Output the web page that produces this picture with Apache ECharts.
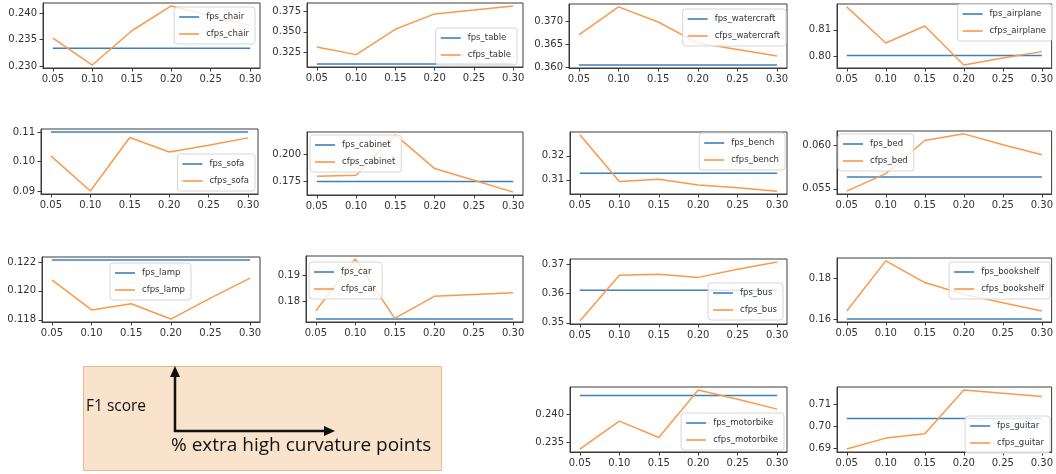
<!DOCTYPE html>
<html><head><meta charset="utf-8">
<script src="https://cdn.jsdelivr.net/npm/echarts@6/dist/echarts.min.js"></script>
<style>html,body{margin:0;padding:0;background:#fff}#c{width:1056px;height:474px}</style>
</head><body><div id="c"></div>
<script>
// ---------------- DATA ----------------
const xValues = [0.05, 0.10, 0.15, 0.20, 0.25, 0.30];
const xTickLabels = ['0.05', '0.10', '0.15', '0.20', '0.25', '0.30'];
const categories = ['chair', 'table', 'watercraft', 'airplane', 'sofa', 'cabinet', 'bench', 'bed',
  'lamp', 'car', 'bus', 'bookshelf', 'motorbike', 'guitar'];
// fps baseline (constant across x)
const fpsScores = [0.2334, 0.3112, 0.3604, 0.8005, 0.1100, 0.1747, 0.3127, 0.05637,
  0.12214, 0.17327, 0.3612, 0.1602, 0.2435, 0.7035];
// cfps at each x value
const cfpsChair = [0.2353, 0.2302, 0.2367, 0.2414, 0.2395, 0.2377];
const cfpsTable = [0.3318, 0.3226, 0.3531, 0.3716, 0.3763, 0.3812];
const cfpsWatercraft = [0.3670, 0.3731, 0.3698, 0.3652, 0.3638, 0.3624];
const cfpsAirplane = [0.8185, 0.8051, 0.8114, 0.7969, 0.7995, 0.8019];
const cfpsSofa = [0.1019, 0.0900, 0.1081, 0.1032, 0.1055, 0.1080];
const cfpsCabinet = [0.1797, 0.1806, 0.2187, 0.1869, 0.1759, 0.1647];
const cfpsBench = [0.3287, 0.3093, 0.3103, 0.3079, 0.3067, 0.3053];
const cfpsBed = [0.05473, 0.05675, 0.06057, 0.06134, 0.06008, 0.05892];
const cfpsLamp = [0.12076, 0.11868, 0.11911, 0.11805, 0.11950, 0.12088];
const cfpsCar = [0.17638, 0.1961, 0.1735, 0.1819, 0.1826, 0.1833];
const cfpsBus = [0.3506, 0.3663, 0.3667, 0.3656, 0.3684, 0.3709];
const cfpsBookshelf = [0.1641, 0.1884, 0.1779, 0.1722, 0.1681, 0.1641];
const cfpsMotorbike = [0.2337, 0.2388, 0.2358, 0.2445, 0.2428, 0.2410];
const cfpsGuitar = [0.6895, 0.6945, 0.6965, 0.7165, 0.7150, 0.7135];
const cfpsScores = [cfpsChair, cfpsTable, cfpsWatercraft, cfpsAirplane, cfpsSofa, cfpsCabinet,
  cfpsBench, cfpsBed, cfpsLamp, cfpsCar, cfpsBus, cfpsBookshelf, cfpsMotorbike, cfpsGuitar];
// y tick labels per panel
const yTicksChair = ['0.230', '0.235', '0.240'];
const yTicksTable = ['0.325', '0.350', '0.375'];
const yTicksWatercraft = ['0.360', '0.365', '0.370'];
const yTicksAirplane = ['0.80', '0.81'];
const yTicksSofa = ['0.09', '0.10', '0.11'];
const yTicksCabinet = ['0.175', '0.200'];
const yTicksBench = ['0.31', '0.32'];
const yTicksBed = ['0.055', '0.060'];
const yTicksLamp = ['0.118', '0.120', '0.122'];
const yTicksCar = ['0.18', '0.19'];
const yTicksBus = ['0.35', '0.36', '0.37'];
const yTicksBookshelf = ['0.16', '0.18'];
const yTicksMotorbike = ['0.235', '0.240'];
const yTicksGuitar = ['0.69', '0.70', '0.71'];
const yTickLabels = [yTicksChair, yTicksTable, yTicksWatercraft, yTicksAirplane, yTicksSofa, yTicksCabinet,
  yTicksBench, yTicksBed, yTicksLamp, yTicksCar, yTicksBus, yTicksBookshelf, yTicksMotorbike, yTicksGuitar];
const annotationYLabel = 'F1 score';
const annotationXLabel = '% extra high curvature points';

// ---------------- LAYOUT ----------------
const panels = [
  { l: 43, t: 3, w: 217, h: 65, lg: { right: 801, top: 7 } },
  { l: 307, t: 3, w: 216, h: 64, lg: { right: 539, top: 28 } },
  { l: 569, t: 4, w: 218, h: 64, lg: { right: 270, top: 9 } },
  { l: 837, t: 4, w: 216, h: 64, lg: { right: 4, top: 4 } },
  { l: 41, t: 129, w: 217, h: 65, lg: { right: 801, top: 154 } },
  { l: 307, t: 132, w: 216, h: 63, lg: { left: 310, top: 135 } },
  { l: 570, t: 132, w: 217, h: 62, lg: { right: 271, top: 133 } },
  { l: 837, t: 131, w: 216, h: 63, lg: { left: 838, top: 134 } },
  { l: 42, t: 257, w: 218, h: 65, lg: { left: 'center', top: 263, cx: 151 } },
  { l: 306, t: 256, w: 217, h: 66, lg: { left: 309, top: 262 } },
  { l: 570, t: 259, w: 217, h: 65, lg: { right: 273, top: 283 } },
  { l: 837, t: 258, w: 216, h: 64, lg: { right: 6, top: 262 } },
  { l: 570, t: 387, w: 217, h: 65, lg: { right: 272, top: 413 } },
  { l: 837, t: 387, w: 216, h: 65, lg: { right: 6, top: 416 } }
];
const BLUE = '#3d80bb';
const ORANGE = '#fb994a';
const TXT = '#333';
const FONT = 'DejaVu Sans';

const grids = [], xAxes = [], yAxes = [], series = [], legends = [];
const xMin = xValues[0] - 0.05 * (xValues[xValues.length - 1] - xValues[0]);
const xMax = xValues[xValues.length - 1] + 0.05 * (xValues[xValues.length - 1] - xValues[0]);
const xTickVals = xTickLabels.map(Number);

categories.forEach((cat, i) => {
  const p = panels[i];
  const all = cfpsScores[i].concat([fpsScores[i]]);
  const lo = Math.min(...all), hi = Math.max(...all);
  const pad = 0.05 * (hi - lo);
  const labels = yTickLabels[i];
  const yVals = labels.map(Number);
  grids.push({ left: p.l, top: p.t, width: p.w, height: p.h, show: true,
    borderColor: '#3c3c3c', borderWidth: 1, backgroundColor: 'transparent' });
  xAxes.push({ gridIndex: i, type: 'value', min: xMin, max: xMax,
    splitLine: { show: false },
    axisLine: { show: true, lineStyle: { color: '#3c3c3c', width: 1 } },
    axisTick: { show: true, customValues: xTickVals, length: 3.5, lineStyle: { color: '#3c3c3c' } },
    axisLabel: { customValues: xTickVals, fontSize: 10, color: TXT, fontFamily: FONT, margin: 6,
      formatter: v => { const k = xTickVals.findIndex(t => Math.abs(t - v) < 1e-9); return k >= 0 ? xTickLabels[k] : ''; } }
  });
  yAxes.push({ gridIndex: i, type: 'value', min: lo - pad, max: hi + pad,
    splitLine: { show: false },
    axisLine: { show: true, lineStyle: { color: '#3c3c3c', width: 1 } },
    axisTick: { show: true, customValues: yVals, length: 3.5, lineStyle: { color: '#3c3c3c' } },
    axisLabel: { customValues: yVals, fontSize: 10, color: TXT, fontFamily: FONT, margin: 6,
      formatter: v => { const k = yVals.findIndex(t => Math.abs(t - v) < 1e-9); return k >= 0 ? labels[k] : ''; } }
  });
  series.push({ type: 'line', name: 'fps_' + cat, xAxisIndex: i, yAxisIndex: i,
    data: [[xValues[0], fpsScores[i]], [xValues[xValues.length - 1], fpsScores[i]]],
    symbol: 'none', lineStyle: { color: BLUE, width: 1.5 }, itemStyle: { color: BLUE }, z: 2 });
  series.push({ type: 'line', name: 'cfps_' + cat, xAxisIndex: i, yAxisIndex: i,
    data: xValues.map((x, j) => [x, cfpsScores[i][j]]),
    symbol: 'none', lineStyle: { color: ORANGE, width: 1.5 }, itemStyle: { color: ORANGE }, z: 3 });
  const lg = { data: ['fps_' + cat, 'cfps_' + cat], orient: 'vertical', top: p.lg.top,
    icon: 'rect', itemWidth: 20, itemHeight: 1.6, itemGap: 5, padding: [4, 6, 4, 5],
    backgroundColor: 'rgba(255,255,255,0.8)', borderColor: '#d6d6d6', borderWidth: 1, borderRadius: 3,
    selectedMode: false, z: 10,
    textStyle: { fontSize: 8.5, color: TXT, fontFamily: FONT, lineHeight: 12, padding: [0, 0, 0, 2] } };
  if (p.lg.right !== undefined) lg.right = p.lg.right;
  if (p.lg.left !== undefined) lg.left = p.lg.left === 'center' ? (p.lg.cx - 41) : p.lg.left;
  legends.push(lg);
});

const chart = echarts.init(document.getElementById('c'), null, { renderer: 'canvas' });
chart.setOption({
  animation: false,
  backgroundColor: '#fff',
  grid: grids, xAxis: xAxes, yAxis: yAxes, series: series, legend: legends,
  graphic: {
    elements: [
      { type: 'rect', z: 1, shape: { x: 83.5, y: 366.5, width: 358, height: 104 },
        style: { fill: '#f9e3cd', stroke: '#e9b98e', lineWidth: 1 } },
      { type: 'text', z: 20, x: 86, y: 399, style: { text: annotationYLabel, fontSize: 15.5, fill: '#111', fontFamily: 'Open Sans' } },
      { type: 'text', z: 20, x: 171, y: 436, style: { text: annotationXLabel, fontSize: 19, fill: '#111', fontFamily: 'Open Sans' } },
      { type: 'line', z: 20, shape: { x1: 175, y1: 432, x2: 175, y2: 374 }, style: { stroke: '#111', lineWidth: 2.5 } },
      { type: 'polygon', z: 20, shape: { points: [[170, 377], [175, 366], [180, 377]] }, style: { fill: '#111' } },
      { type: 'line', z: 20, shape: { x1: 174, y1: 431, x2: 327, y2: 431 }, style: { stroke: '#111', lineWidth: 2.5 } },
      { type: 'polygon', z: 20, shape: { points: [[324, 426], [335, 431], [324, 436]] }, style: { fill: '#111' } }
    ]
  }
});
</script>
</body></html>
